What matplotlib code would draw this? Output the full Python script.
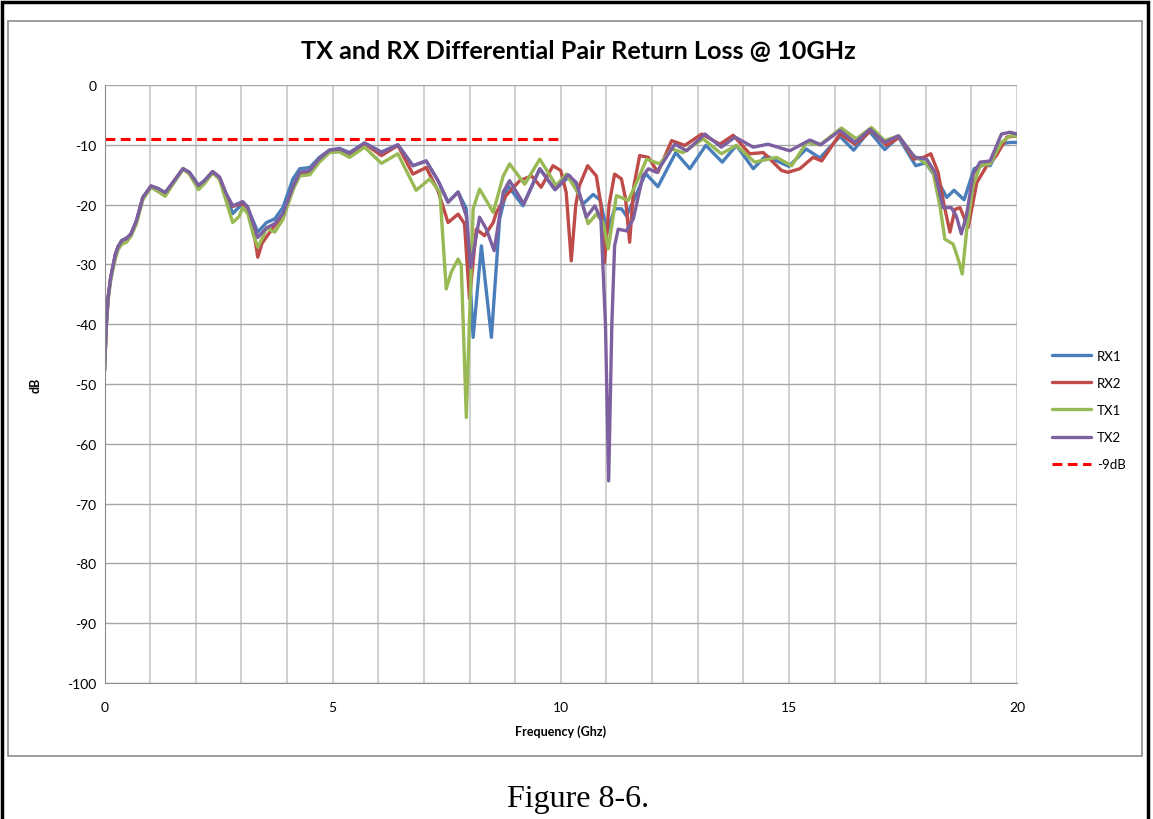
import numpy as np
import matplotlib
matplotlib.use("Agg")
import matplotlib.pyplot as plt
from matplotlib.patches import Rectangle

plt.rcParams["axes.unicode_minus"] = False

# return loss traces, columns: frequency (GHz), dB
rx1 = np.array([
    [0.00, -47.8], [0.04, -40.0], [0.08, -35.5], [0.13, -32.5], [0.18, -30.5], [0.24, -28.3],
    [0.30, -27.0], [0.38, -26.0], [0.48, -25.6], [0.58, -24.9], [0.70, -22.7], [0.84, -18.8],
    [1.02, -16.9], [1.17, -17.3], [1.33, -18.0], [1.50, -16.3], [1.72, -14.0], [1.86, -14.6],
    [2.06, -16.8], [2.19, -16.0], [2.37, -14.5], [2.52, -15.4], [2.67, -18.5], [2.81, -21.5],
    [3.03, -19.8], [3.14, -20.6], [3.36, -24.6], [3.55, -23.0], [3.73, -22.4], [3.91, -20.5],
    [4.13, -15.7], [4.28, -14.0], [4.50, -13.8], [4.71, -12.1], [4.93, -10.9], [5.15, -10.6],
    [5.37, -11.3], [5.70, -9.7], [6.07, -11.2], [6.43, -10.0], [6.76, -13.5], [7.05, -12.7],
    [7.31, -16.0], [7.53, -19.6], [7.75, -17.9], [7.93, -20.7], [8.08, -42.2], [8.26, -26.9],
    [8.48, -42.2], [8.66, -22.4], [8.84, -16.8], [9.17, -20.2], [9.54, -14.0], [9.87, -17.5],
    [10.20, -15.2], [10.49, -19.9], [10.71, -18.3], [10.86, -19.2], [11.02, -24.6], [11.18, -20.7],
    [11.33, -20.7], [11.44, -21.9], [11.59, -19.4], [11.86, -14.8], [12.13, -17.0], [12.52, -11.3],
    [12.83, -14.0], [13.18, -10.1], [13.54, -12.9], [13.85, -10.1], [14.22, -14.0], [14.50, -11.8],
    [14.65, -12.4], [15.00, -13.6], [15.38, -10.7], [15.68, -12.2], [16.12, -8.6], [16.42, -10.9],
    [16.76, -7.7], [17.10, -10.8], [17.40, -8.7], [17.78, -13.5], [18.00, -13.0], [18.24, -15.7],
    [18.46, -18.8], [18.62, -17.6], [18.84, -19.2], [19.06, -14.0], [19.30, -13.3], [19.41, -13.5],
    [19.66, -9.8], [19.85, -9.6], [20.00, -9.6],
])

rx2 = np.array([
    [0.00, -47.8], [0.04, -40.0], [0.08, -35.5], [0.13, -32.5], [0.18, -30.5], [0.24, -28.3],
    [0.30, -27.0], [0.38, -26.1], [0.48, -25.7], [0.58, -25.0], [0.70, -22.8], [0.84, -18.9],
    [1.02, -16.9], [1.17, -17.4], [1.33, -18.2], [1.50, -16.3], [1.72, -14.0], [1.86, -14.7],
    [2.06, -17.0], [2.19, -16.1], [2.37, -14.5], [2.52, -15.5], [2.67, -18.4], [2.81, -20.3],
    [3.03, -19.8], [3.14, -20.6], [3.28, -25.0], [3.36, -28.8], [3.45, -26.5], [3.55, -25.4],
    [3.73, -23.5], [3.91, -22.0], [4.13, -17.5], [4.28, -14.8], [4.50, -14.5], [4.71, -12.4],
    [4.93, -11.0], [5.15, -10.8], [5.37, -11.6], [5.70, -9.8], [6.07, -11.8], [6.43, -10.1],
    [6.76, -14.9], [7.05, -13.8], [7.31, -17.7], [7.53, -23.0], [7.75, -21.6], [7.89, -23.2],
    [8.00, -35.8], [8.15, -24.1], [8.33, -25.2], [8.52, -23.0], [8.59, -21.3], [8.80, -18.5],
    [9.10, -16.0], [9.36, -15.2], [9.57, -17.1], [9.83, -13.5], [10.00, -14.3], [10.12, -18.0],
    [10.23, -29.4], [10.33, -20.0], [10.41, -16.8], [10.59, -13.5], [10.78, -15.2], [10.88, -20.0],
    [10.96, -29.7], [11.06, -20.0], [11.18, -14.9], [11.33, -15.7], [11.42, -19.0], [11.51, -26.3],
    [11.60, -17.0], [11.73, -11.8], [11.92, -12.1], [12.13, -14.6], [12.43, -9.3], [12.72, -10.1],
    [13.09, -8.2], [13.49, -9.9], [13.78, -8.4], [14.14, -11.5], [14.44, -11.3], [14.84, -14.3],
    [14.98, -14.6], [15.24, -14.0], [15.53, -12.1], [15.72, -12.7], [16.12, -8.2], [16.45, -9.9],
    [16.81, -7.6], [17.14, -10.1], [17.43, -8.7], [17.73, -12.4], [17.95, -12.1], [18.11, -11.5],
    [18.27, -14.6], [18.40, -20.0], [18.53, -24.6], [18.64, -20.8], [18.75, -20.5], [18.93, -23.8],
    [19.12, -16.3], [19.34, -13.5], [19.55, -11.8], [19.78, -8.7], [20.00, -8.5],
])

tx1 = np.array([
    [0.00, -47.8], [0.04, -40.5], [0.08, -36.0], [0.13, -33.0], [0.18, -31.0], [0.24, -29.0],
    [0.30, -27.5], [0.38, -26.6], [0.48, -26.3], [0.58, -25.3], [0.70, -23.2], [0.84, -19.2],
    [1.02, -17.1], [1.17, -17.8], [1.33, -18.6], [1.50, -16.6], [1.72, -14.1], [1.86, -14.9],
    [2.06, -17.5], [2.19, -16.5], [2.37, -14.7], [2.52, -15.8], [2.67, -19.5], [2.81, -23.0],
    [2.95, -22.0], [3.03, -20.5], [3.14, -21.5], [3.26, -25.0], [3.36, -27.1], [3.45, -25.8],
    [3.55, -23.9], [3.73, -24.6], [3.91, -22.5], [4.13, -17.5], [4.28, -15.2], [4.50, -15.0],
    [4.71, -12.9], [4.93, -11.3], [5.15, -11.2], [5.37, -12.1], [5.70, -10.4], [6.07, -13.1],
    [6.43, -11.5], [6.83, -17.6], [7.13, -15.7], [7.35, -17.9], [7.49, -34.1], [7.60, -31.3],
    [7.75, -29.1], [7.82, -30.2], [7.93, -55.6], [8.08, -20.7], [8.22, -17.4], [8.52, -21.3],
    [8.74, -15.2], [8.88, -13.2], [9.21, -16.6], [9.54, -12.4], [9.90, -16.8], [10.12, -14.9],
    [10.42, -18.5], [10.60, -23.2], [10.78, -21.6], [10.93, -23.0], [11.04, -27.4], [11.22, -18.5],
    [11.48, -19.3], [11.70, -15.7], [11.88, -12.4], [12.17, -13.2], [12.43, -10.7], [12.68, -11.3],
    [13.12, -9.0], [13.52, -11.5], [13.85, -10.1], [14.25, -12.9], [14.73, -12.1], [15.06, -13.5],
    [15.39, -9.6], [15.68, -10.0], [16.15, -7.2], [16.48, -9.0], [16.81, -7.1], [17.10, -9.3],
    [17.40, -8.5], [17.73, -11.8], [18.02, -13.2], [18.16, -14.6], [18.31, -20.2], [18.42, -25.8],
    [18.60, -26.6], [18.71, -29.1], [18.80, -31.6], [18.90, -24.1], [19.04, -16.8], [19.19, -13.5],
    [19.41, -13.2], [19.66, -9.6], [19.85, -8.5], [20.00, -8.5],
])

tx2 = np.array([
    [0.00, -47.8], [0.04, -40.0], [0.08, -35.5], [0.13, -32.5], [0.18, -30.5], [0.24, -28.3],
    [0.30, -27.0], [0.38, -26.0], [0.48, -25.7], [0.58, -24.9], [0.70, -22.7], [0.84, -18.8],
    [1.02, -16.9], [1.17, -17.3], [1.33, -18.0], [1.50, -16.3], [1.72, -14.0], [1.86, -14.6],
    [2.06, -16.8], [2.19, -16.0], [2.37, -14.5], [2.52, -15.4], [2.67, -18.2], [2.81, -20.2],
    [3.03, -19.5], [3.14, -20.4], [3.36, -25.5], [3.55, -23.9], [3.73, -23.2], [3.91, -21.5],
    [4.13, -17.0], [4.28, -14.6], [4.50, -14.3], [4.71, -12.3], [4.93, -10.9], [5.15, -10.7],
    [5.37, -11.4], [5.70, -9.7], [6.07, -11.3], [6.43, -10.0], [6.76, -13.5], [7.05, -12.7],
    [7.31, -16.0], [7.53, -19.6], [7.75, -17.9], [7.93, -21.9], [8.03, -30.5], [8.22, -22.1],
    [8.37, -24.1], [8.54, -27.7], [8.74, -17.9], [8.88, -16.0], [9.19, -19.9], [9.54, -14.0],
    [9.88, -17.5], [10.16, -15.0], [10.34, -16.3], [10.56, -22.1], [10.75, -20.2], [10.88, -22.5],
    [10.98, -40.0], [11.05, -66.2], [11.12, -40.0], [11.18, -26.9], [11.26, -24.1], [11.44, -24.4],
    [11.59, -22.4], [11.80, -15.2], [11.92, -14.0], [12.10, -14.6], [12.50, -9.9], [12.76, -11.0],
    [13.16, -8.2], [13.52, -10.4], [13.82, -8.7], [14.22, -10.4], [14.54, -9.9], [15.02, -11.0],
    [15.46, -9.2], [15.70, -10.0], [16.12, -7.6], [16.45, -9.6], [16.78, -7.4], [17.10, -9.6],
    [17.40, -8.5], [17.76, -12.1], [18.02, -12.4], [18.20, -14.6], [18.38, -20.5], [18.56, -20.5],
    [18.67, -21.9], [18.78, -24.9], [18.89, -21.9], [19.04, -14.9], [19.19, -12.9], [19.41, -12.7],
    [19.66, -8.2], [19.85, -7.9], [20.00, -8.2],
])

limit_f = [0, 10]
limit_db = [-9, -9]

names = ["RX1", "RX2", "TX1", "TX2"]
colors = ["#4A7EBB", "#BE4B48", "#98B954", "#7D60A0"]

font = ["Lato", "DejaVu Sans"]

fig = plt.figure(figsize=(11.53, 8.20), dpi=100)

# page border and chart frame
fig.patches.append(Rectangle((2 / 1153, -0.02), 1146 / 1153, 1.02 - 2.5 / 820, transform=fig.transFigure,
                             fill=False, edgecolor="black", linewidth=2.5))
fig.patches.append(Rectangle((8 / 1153, 1 - 757 / 820), 1134 / 1153, 735 / 820,
                             transform=fig.transFigure, fill=False, edgecolor="#8c8c8c", linewidth=1.2))

ax = fig.add_axes([104.5 / 1153, 1 - 684 / 820, 912.5 / 1153, 598 / 820])

for data, name, c in zip([rx1, rx2, tx1, tx2], names, colors):
    ax.plot(data[:, 0], data[:, 1], color=c, lw=2.4, label=name,
            solid_joinstyle="round", solid_capstyle="round")
ax.plot(limit_f, limit_db, color="#FF0000", lw=2.2, ls=(0, (3.2, 1.8)), label="-9dB")

ax.set_xlim(0, 20)
ax.set_ylim(-100, 0)
ax.set_xticks([0, 5, 10, 15, 20])
ax.set_xticks(np.arange(0, 21, 1), minor=True)
ax.set_yticks(np.arange(-100, 1, 10))
ax.grid(True, axis="x", which="both", color="#c8c8c8", lw=1.2)
ax.grid(True, axis="y", which="major", color="#a6a6a6", lw=1.0)
ax.set_axisbelow(True)
for s in ["top", "right"]:
    ax.spines[s].set_visible(False)
ax.spines["left"].set_color("#8c8c8c")
ax.spines["bottom"].set_color("#8c8c8c")
ax.tick_params(which="both", length=0)
ax.tick_params(axis="y", pad=6)
ax.tick_params(axis="x", pad=13)
for lbl in ax.get_xticklabels() + ax.get_yticklabels():
    lbl.set_family(font)
    lbl.set_fontsize(10)

ax.set_xlabel("Frequency (Ghz)", family=font, fontsize=9, fontweight="bold", labelpad=8)
ax.set_ylabel("dB", family=font, fontsize=9, fontweight="bold", labelpad=18)

fig.text(578 / 1153, 1 - 51 / 820, "TX and RX Differential Pair Return Loss @ 10GHz",
         ha="center", va="center", family=font, fontsize=18.2, fontweight="bold")

fig.legend(loc="center left", bbox_to_anchor=(1040 / 1153, 1 - 411 / 820), frameon=False,
           prop={"family": font, "size": 9.5}, handlelength=3.0, labelspacing=1.15,
           handletextpad=0.4)

fig.text(578 / 1153, 1 - 800 / 820, "Figure 8-6.", ha="center", va="center",
         family=["Liberation Serif", "DejaVu Serif"], fontsize=23)

fig.savefig("out.png", dpi=100)
